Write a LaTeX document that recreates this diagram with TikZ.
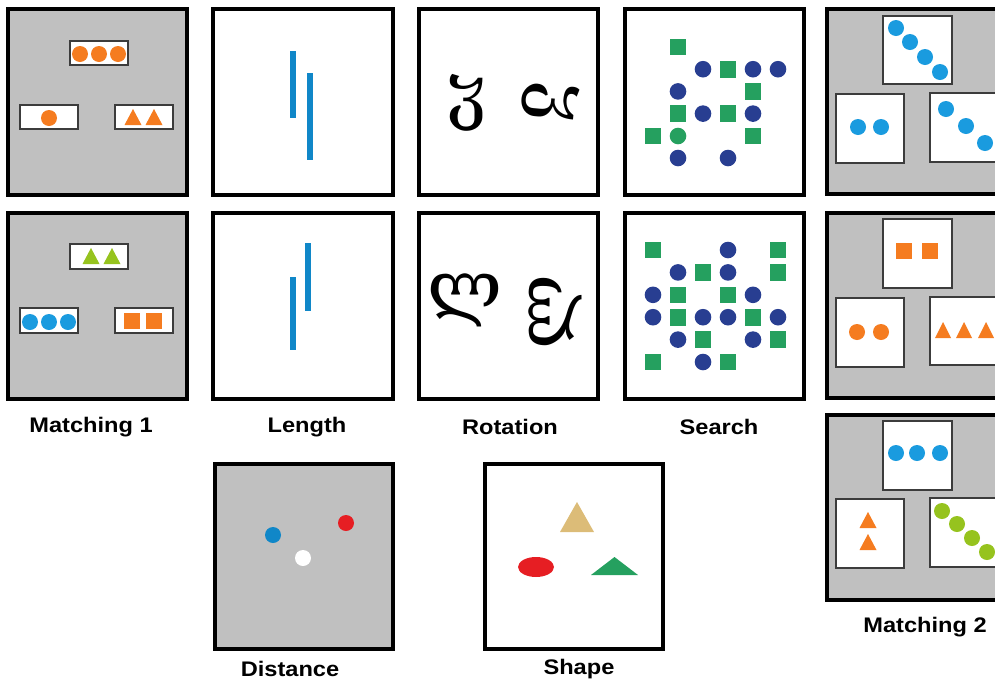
\documentclass[tikz,border=0pt]{standalone}
\usepackage{fontspec}
\newfontfamily\capfont{Liberation Sans}[FakeStretch=1.12]
\newfontfamily\geofont{DejaVu Serif}
\definecolor{panelgray}{RGB}{192,192,192}
\definecolor{cardline}{RGB}{60,60,60}
\definecolor{mango}{RGB}{245,124,32}
\definecolor{sky}{RGB}{26,155,223}
\definecolor{lime}{RGB}{150,195,30}
\definecolor{barblue}{RGB}{16,135,200}
\definecolor{leaf}{RGB}{37,160,95}
\definecolor{navy}{RGB}{40,62,145}
\definecolor{sand}{RGB}{220,188,120}
\definecolor{cherry}{RGB}{230,30,35}
\newcommand\tri[5]{\fill[#1] (#2-#4,#3) -- (#2+#4,#3) -- (#2,#3-#5) -- cycle;}
\newcommand\sq[4]{\fill[#1] (#2-#4,#3-#4) rectangle (#2+#4,#3+#4);}

\begin{document}
\begin{tikzpicture}[x=0.02cm, y=-0.02cm,
	panel/.style={draw=black, line width=1.8pt},
	card/.style={draw=cardline, line width=0.9pt, fill=white},
	bar/.style={draw=barblue, line width=3.2pt},
	caption/.style={font=\capfont\bfseries\fontsize{12}{14}\selectfont, inner sep=0pt},
	glyph/.style={font=\geofont\fontsize{40}{40}\selectfont, inner sep=0pt}]
	\useasboundingbox (0,0) rectangle (995,680);
	\clip (0,0) rectangle (995,680);

	\draw[panel, fill=panelgray] (8,9) rectangle (187,195);
	\draw[card] (70,41) rectangle (128,65);
	\foreach \x in {80,99,118} \fill[mango] (\x,54) circle[radius=8];
	\draw[card] (20,105) rectangle (78,129);
	\fill[mango] (49,118) circle[radius=8];
	\draw[card] (115,105) rectangle (173,129);
	\tri{mango}{133}{125}{8.5}{16} \tri{mango}{154}{125}{8.5}{16}

	\draw[panel, fill=panelgray] (8,213) rectangle (187,399);
	\draw[card] (70,244) rectangle (128,269);
	\tri{lime}{91}{264}{8.5}{16} \tri{lime}{112}{264}{8.5}{16}
	\draw[card] (20,308) rectangle (78,333);
	\foreach \x in {30,49,68} \fill[sky] (\x,322) circle[radius=8];
	\draw[card] (115,308) rectangle (173,333);
	\sq{mango}{132}{321}{8} \sq{mango}{154}{321}{8}
	\node[caption] (match1) at (91,427) {Matching 1};

	\draw[panel] (213,9) rectangle (393,195);
	\draw[bar] (293,51) -- (293,118);
	\draw[bar] (310,73) -- (310,160);
	\draw[panel] (213,213) rectangle (393,399);
	\draw[bar] (293,277) -- (293,350);
	\draw[bar] (308,243) -- (308,311);
	\node[caption] (length) at (307,427) {Length};

	\draw[panel] (419,9) rectangle (598,195);
	\node[glyph] (vie) at (467,103) {ჳ};
	\node[glyph, rotate=-95] (vierot) at (550,102) {ჳ};
	\draw[panel] (419,213) rectangle (598,399);
	\node[glyph] (las) at (465,300) {ლ};
	\node[glyph, rotate=90] (lasrot) at (555,312) {ლ};
	\node[caption] (rotation) at (510,427) {Rotation};

	\draw[panel] (625,9) rectangle (804,195);
	\foreach \c/\r in {1/0,3/1,4/2,1/3,3/3,0/4,4/4}
		{\sq{leaf}{653+25*\c}{47+22.2*\r}{8.3}}
	\foreach \c/\r in {2/1,4/1,5/1,1/2,2/3,4/3,1/5,3/5}
		\fill[navy] (653+25*\c,47+22.2*\r) circle[radius=8.3];
	\fill[leaf] (678,136) circle[radius=8.3];
	\draw[panel] (625,213) rectangle (804,399);
	\foreach \c/\r in {0/0,5/0,2/1,5/1,1/2,3/2,1/3,4/3,2/4,5/4,0/5,3/5}
		{\sq{leaf}{653+25*\c}{250+22.4*\r}{8.3}}
	\foreach \c/\r in {3/0,1/1,3/1,0/2,4/2,0/3,2/3,3/3,5/3,1/4,4/4,2/5}
		\fill[navy] (653+25*\c,250+22.4*\r) circle[radius=8.3];
	\node[caption] (search) at (719,427) {Search};

	\draw[panel, fill=panelgray] (827,9) rectangle (1012,194);
	\draw[card] (883,16) rectangle (952,84);
	\foreach \x/\y in {896/28,910/42,925/57,940/72} \fill[sky] (\x,\y) circle[radius=8];
	\draw[card] (836,94) rectangle (904,163);
	\foreach \x in {858,881} \fill[sky] (\x,127) circle[radius=8];
	\draw[card] (930,93) rectangle (1000,162);
	\foreach \x/\y in {946/109,966/126,985/143} \fill[sky] (\x,\y) circle[radius=8];

	\draw[panel, fill=panelgray] (827,213) rectangle (1012,398);
	\draw[card] (883,219) rectangle (952,288);
	\sq{mango}{904}{251}{8} \sq{mango}{930}{251}{8}
	\draw[card] (836,298) rectangle (904,367);
	\foreach \x in {857,881} \fill[mango] (\x,332) circle[radius=8];
	\draw[card] (930,297) rectangle (1000,365);
	\foreach \x in {943,964,986} {\tri{mango}{\x}{338}{8}{16}}

	\draw[panel, fill=panelgray] (827,415) rectangle (1012,600);
	\draw[card] (883,421) rectangle (952,490);
	\foreach \x in {896,917,940} \fill[sky] (\x,453) circle[radius=8];
	\draw[card] (836,499) rectangle (904,568);
	\tri{mango}{868}{528}{8.5}{16} \tri{mango}{868}{550}{8.5}{16}
	\draw[card] (930,498) rectangle (1000,567);
	\foreach \x/\y in {942/511,957/524,972/538,987/552} \fill[lime] (\x,\y) circle[radius=8];
	\node[caption] (match2) at (925,627) {Matching 2};

	\draw[panel, fill=panelgray] (215,464) rectangle (393,649);
	\fill[barblue] (273,535) circle[radius=8];
	\fill[cherry] (346,523) circle[radius=8];
	\fill[white] (303,558) circle[radius=8];
	\node[caption] (distance) at (290,669) {Distance};

	\draw[panel] (485,464) rectangle (663,649);
	\tri{sand}{577}{532}{17}{30}
	\fill[cherry] (536,567) ellipse[x radius=18, y radius=10];
	\tri{leaf}{614.5}{575}{23.5}{18}
	\node[caption] (shape) at (579,669) {Shape};
\end{tikzpicture}
\end{document}
